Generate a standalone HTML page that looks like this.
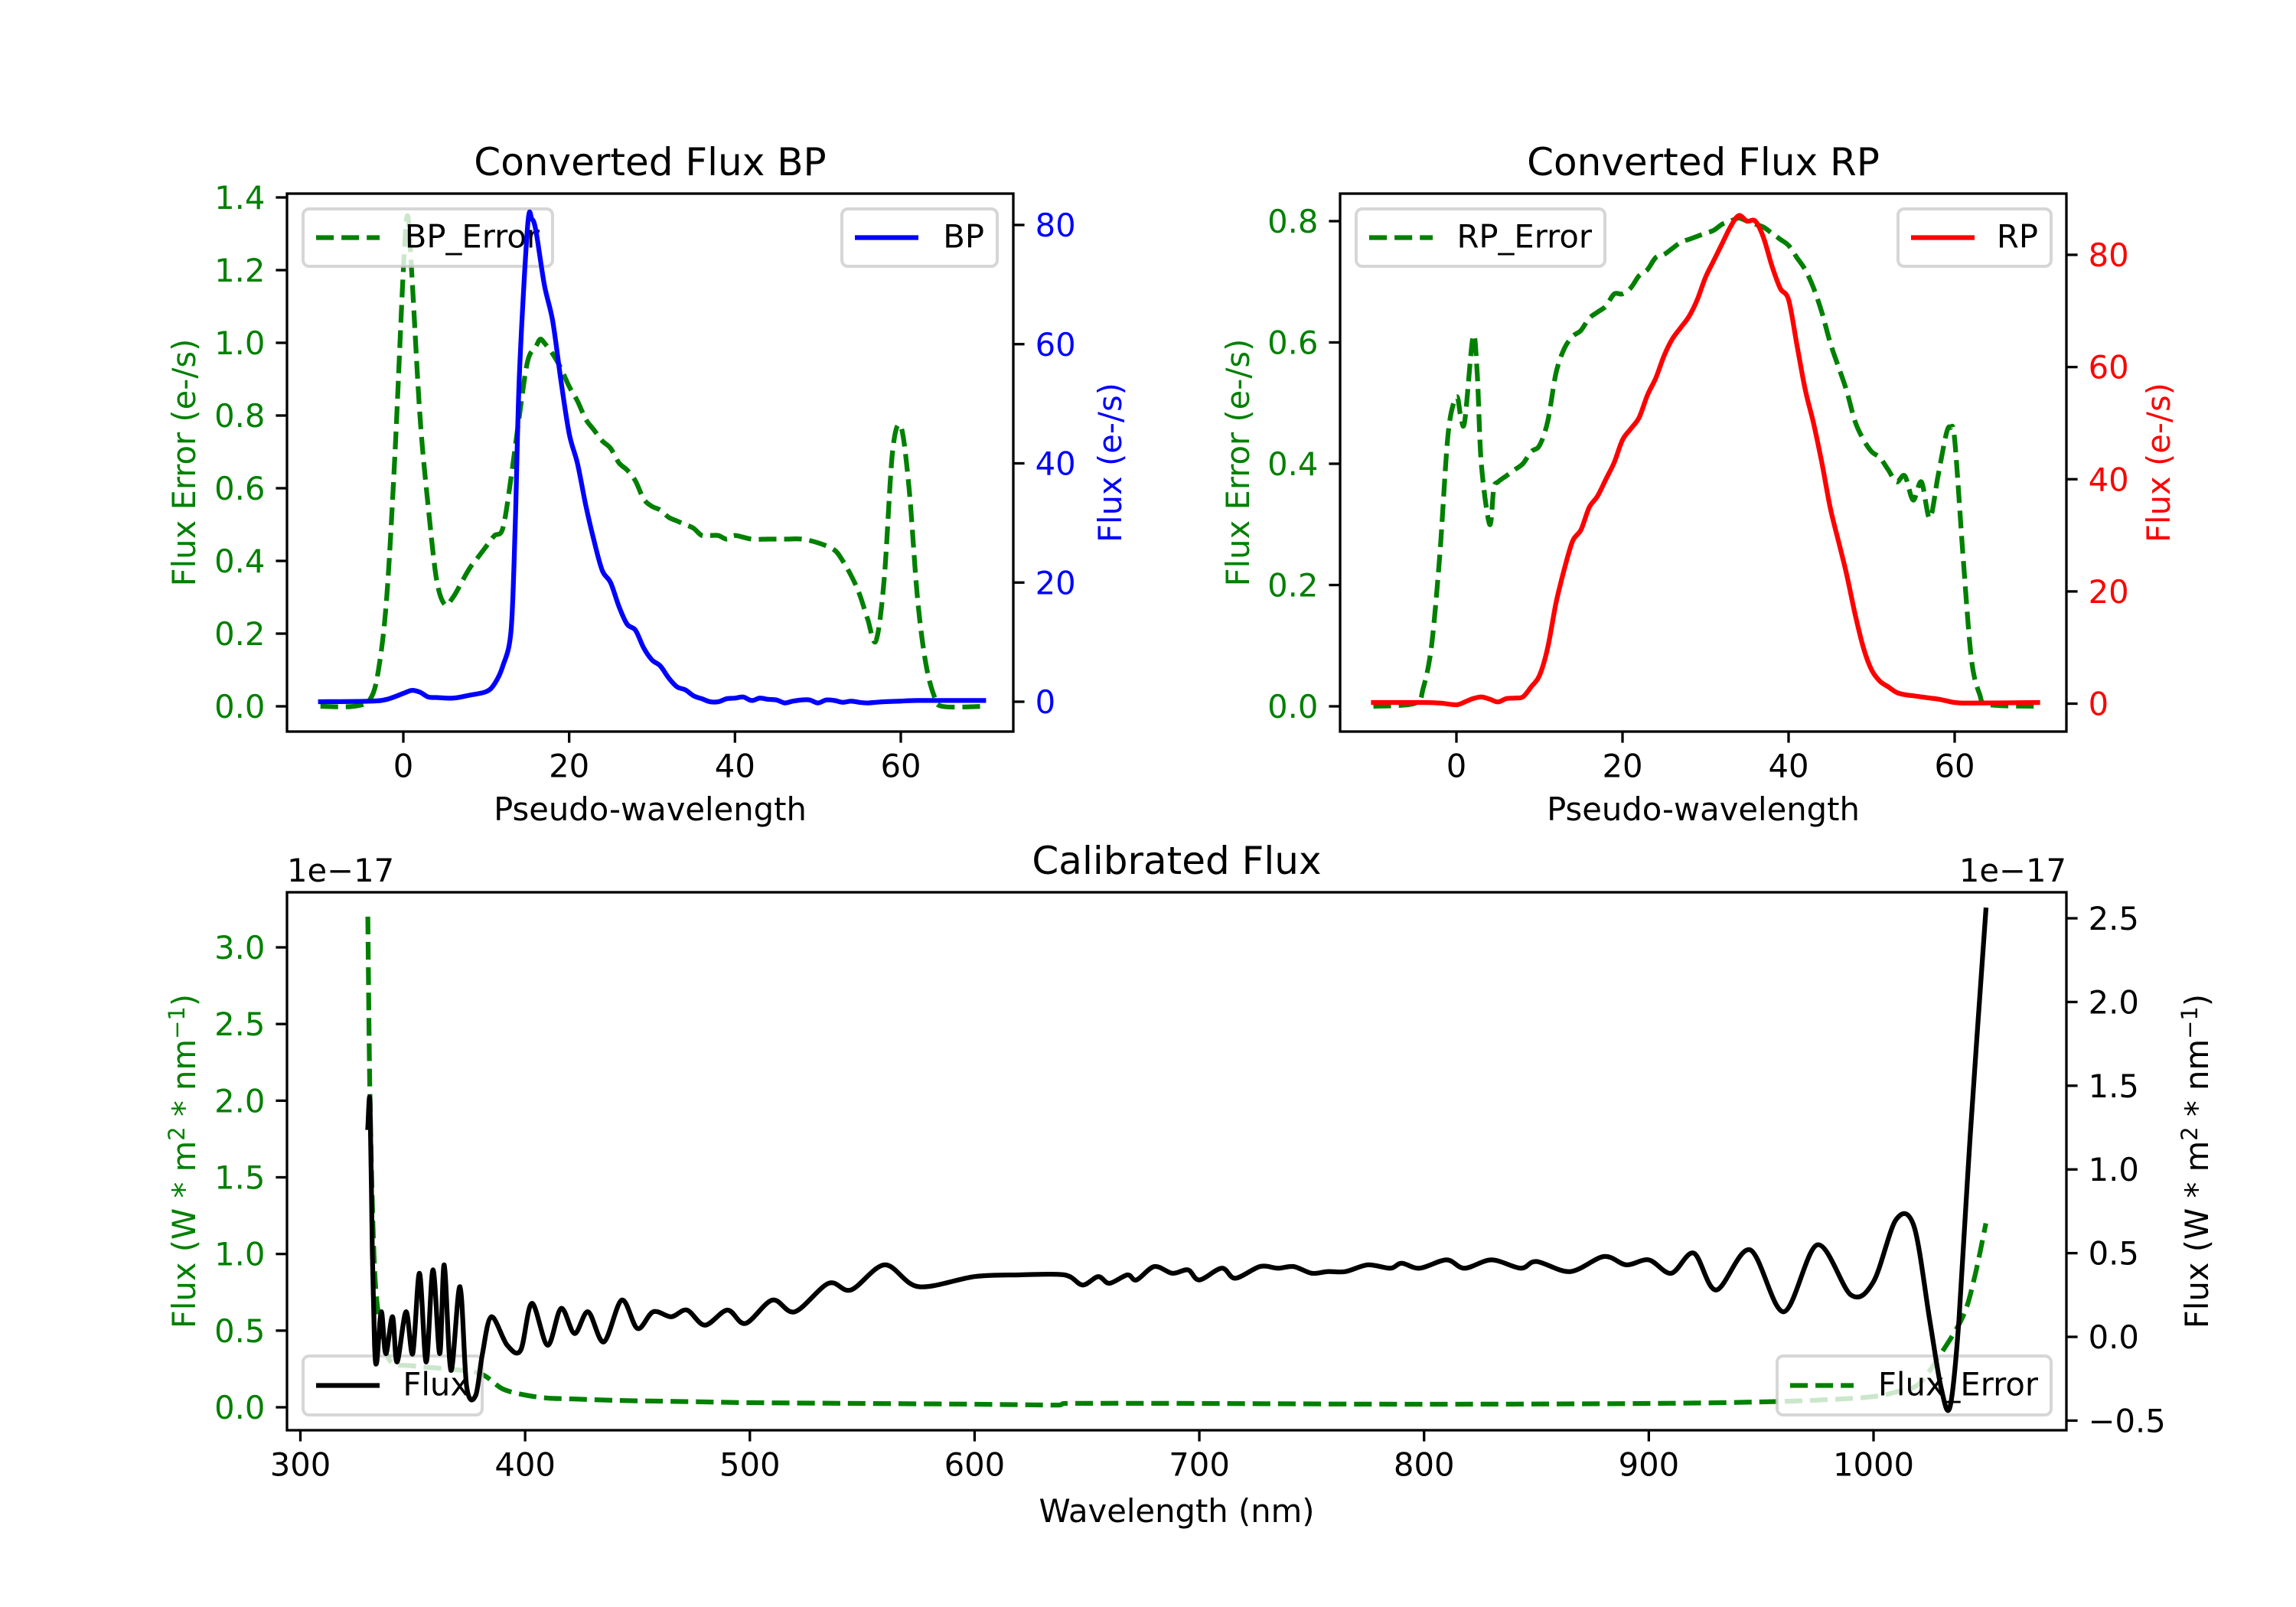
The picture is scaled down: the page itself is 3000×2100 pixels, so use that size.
<!DOCTYPE html>
<html><head><meta charset="utf-8">
<style>
html,body{margin:0;padding:0;background:#fff;}
svg{display:block;font-family:"DejaVu Sans","Liberation Sans",sans-serif;}
</style></head>
<body>
<svg id="fig" width="3000" height="2100" viewBox="0 0 3000 2100" xmlns="http://www.w3.org/2000/svg"></svg>
<script>
// ---------- BP panel data ----------
const bpErrX = [-10,-6,-4,-3,-2,-1,0,0.5,1,2,3,4,5,6,7,8,9,10,11,12,13,14,15,16,16.5,17,18,19,20,21,22,23,24,25,26,27,28,29,30,31,32,33,34,35,36,37,38,39,40,42,44,46,48,50,52,53,54,55,56,57,58,59,60,61,62,63,64,65,70];
const bpErrY = [0,0,0.02,0.1,0.3,0.7,1.2,1.35,1.2,0.8,0.55,0.35,0.28,0.3,0.34,0.38,0.41,0.44,0.47,0.49,0.63,0.8,0.95,0.99,1.01,1.0,0.97,0.93,0.88,0.84,0.79,0.76,0.73,0.71,0.67,0.65,0.62,0.57,0.55,0.54,0.52,0.51,0.5,0.49,0.47,0.47,0.47,0.46,0.47,0.46,0.46,0.46,0.46,0.45,0.43,0.4,0.36,0.31,0.24,0.18,0.35,0.7,0.77,0.6,0.3,0.12,0.03,0,0];
const bpX = [-10,-4,-2,0,1,2,3,4,6,8,10,11,12,13,13.5,14,15,15.5,16,17,18,19,20,21,22,23,24,25,26,27,28,29,30,31,32,33,34,35,36,37,38,39,40,41,42,43,44,45,46,47,48,49,50,51,52,53,54,55,56,57,58,60,62,70];
const bpY = [0,0.1,0.4,1.4,1.9,1.6,0.8,0.7,0.6,1.1,1.7,3,6,12,30,55,80,81,79,70,64,54,45,40,33,27,22,20,16,13,12,9,7,6,4,2.5,2,1,0.5,0,0,0.5,0.6,0.8,0.2,0.6,0.4,0.3,-0.2,0.1,0.3,0.3,-0.2,0.3,0.2,-0.1,0.1,-0.1,-0.2,-0.1,0,0.1,0.2,0.2];
const bpXTicks = [0,20,40,60];
const bpLeftTicks = [0,0.2,0.4,0.6,0.8,1.0,1.2,1.4];
const bpRightTicks = [0,20,40,60,80];
// ---------- RP panel data ----------
const rpErrX = [-10,-5,-4,-3,-2,-1,0,0.5,1,2,2.5,3,4,4.5,5,6,7,8,9,10,11,12,13,14,15,16,17,18,19,20,21,22,23,24,25,26,27,28,29,30,31,32,33,34,35,36,37,38,39,40,41,42,43,44,45,46,47,48,49,50,51,52,53,54,55,56,57,58,59,59.5,60,61,62,63,64,70];
const rpErrY = [0,0.005,0.03,0.1,0.25,0.45,0.51,0.48,0.47,0.61,0.55,0.4,0.3,0.36,0.37,0.38,0.39,0.4,0.42,0.43,0.47,0.55,0.59,0.61,0.62,0.64,0.65,0.66,0.68,0.68,0.69,0.71,0.72,0.74,0.745,0.755,0.765,0.77,0.775,0.78,0.785,0.795,0.8,0.805,0.8,0.795,0.79,0.78,0.77,0.76,0.74,0.72,0.69,0.65,0.6,0.56,0.52,0.47,0.44,0.42,0.41,0.39,0.37,0.38,0.34,0.37,0.31,0.38,0.45,0.46,0.44,0.25,0.08,0.02,0.003,0];
const rpX = [-10,-4,-2,0,1,2,3,4,5,6,7,8,9,10,11,12,13,14,15,16,17,18,19,20,21,22,23,24,25,26,27,28,29,30,31,32,33,34,35,36,37,38,39,40,41,42,43,44,45,46,47,48,49,50,51,52,53,54,55,56,57,58,59,60,62,70];
const rpY = [0.2,0.2,0.1,-0.2,0.3,0.9,1.2,0.8,0.3,0.9,1.0,1.2,3,5,10,18,24,29,31,35,37,40,43,47,49,51,55,58,62,65,67,69,72,76,79,82,85,87,86,86,83,78,74,72,64,56,50,43,35,29,23,16,10,6,4,3,2,1.6,1.4,1.2,1,0.8,0.5,0.2,0.1,0.2];
const rpXTicks = [0,20,40,60];
const rpLeftTicks = [0,0.2,0.4,0.6,0.8];
const rpRightTicks = [0,20,40,60,80];
// ---------- Calibrated panel data ----------
const calErrX = [330,331,333,336,340,350,365,380,390,400,410,420,440,460,480,500,550,600,630,638,640,700,800,900,950,980,1000,1010,1020,1030,1040,1045,1050];
const calErrY = [3.2,2.0,0.9,0.5,0.3,0.27,0.25,0.22,0.12,0.08,0.06,0.055,0.045,0.04,0.035,0.03,0.025,0.02,0.015,0.015,0.025,0.025,0.02,0.025,0.035,0.05,0.07,0.1,0.15,0.35,0.6,0.85,1.2];
const calX = [330,331,332,333,334,336,338,341,343,347,350,353,356,359,362,364,367,371,374,378,381,385,392,398,403,410,416,422,428,435,443,450,457,465,472,480,490,498,510,520,535,545,560,575,600,620,640,648,655,660,668,672,680,688,695,700,710,716,727,735,742,750,757,765,775,785,790,798,810,818,830,843,850,865,880,890,900,910,920,930,945,960,975,990,1000,1010,1018,1025,1030,1034,1038,1043,1050];
const calY = [1.25,1.4,0.5,-0.05,-0.15,0.15,-0.1,0.12,-0.15,0.15,-0.1,0.38,-0.15,0.4,-0.1,0.43,-0.2,0.3,-0.3,-0.35,-0.1,0.12,-0.05,-0.08,0.2,-0.05,0.17,0.02,0.15,-0.03,0.22,0.05,0.15,0.12,0.16,0.07,0.16,0.08,0.22,0.15,0.32,0.28,0.43,0.3,0.36,0.37,0.37,0.31,0.36,0.32,0.37,0.34,0.42,0.38,0.4,0.34,0.41,0.35,0.42,0.41,0.42,0.38,0.39,0.39,0.43,0.41,0.44,0.41,0.46,0.41,0.46,0.41,0.45,0.39,0.48,0.43,0.46,0.38,0.5,0.28,0.52,0.15,0.55,0.25,0.33,0.7,0.66,0.1,-0.3,-0.42,0.1,1.2,2.55];
const calXTicks = [300,400,500,600,700,800,900,1000];
const calLeftTicks = [0,0.5,1.0,1.5,2.0,2.5,3.0];
const calRightTicks = [-0.5,0,0.5,1.0,1.5,2.0,2.5];

const NS = "http://www.w3.org/2000/svg";
const fig = document.getElementById('fig');
const FS = 41.7, LW = 6.25, TICK = 14.6;
function mk(tag, attrs, parent){ const e=document.createElementNS(NS,tag); for(const k in attrs) e.setAttribute(k,attrs[k]); (parent||fig).appendChild(e); return e; }
function lin(d0,d1,p0,p1){ return v => p0 + (v-d0)*(p1-p0)/(d1-d0); }
function fmt(v,dec){ const s=v.toFixed(dec); return v<0 ? '\u2212'+s.slice(1) : s; }
function txt(s, x, y, opts){
  const t = mk('text', Object.assign({x:x,y:y,'font-size':FS,fill:'#000'}, opts||{}));
  t.textContent = s; return t;
}
function line(xs, ys, sx, sy, color, dashed, name, smooth){
  const P = xs.map((x,i)=>[sx(x), sy(ys[i])]);
  let d = 'M'+P[0][0].toFixed(1)+','+P[0][1].toFixed(1);
  for(let i=0;i<P.length-1;i++){
    if(smooth){
      const p0=P[Math.max(0,i-1)], p1=P[i], p2=P[i+1], p3=P[Math.min(P.length-1,i+2)];
      const t=0.16;
      const c1=[p1[0]+(p2[0]-p0[0])*t, p1[1]+(p2[1]-p0[1])*t];
      const c2=[p2[0]-(p3[0]-p1[0])*t, p2[1]-(p3[1]-p1[1])*t];
      // keep control x monotone
      c1[0]=Math.min(Math.max(c1[0],p1[0]),p2[0]); c2[0]=Math.min(Math.max(c2[0],p1[0]),p2[0]);
      d += 'C'+c1[0].toFixed(1)+','+c1[1].toFixed(1)+' '+c2[0].toFixed(1)+','+c2[1].toFixed(1)+' '+p2[0].toFixed(1)+','+p2[1].toFixed(1);
    } else d += 'L'+P[i+1][0].toFixed(1)+','+P[i+1][1].toFixed(1);
  }
  const p = mk('path',{d:d,fill:'none',stroke:color,'stroke-width':LW,'stroke-linejoin':'round','stroke-linecap':dashed?'butt':'square'});
  if(dashed) p.setAttribute('stroke-dasharray','23.1,10');
  
  
  return p;
}
function legend(x, y, w, h, label, color, dashed, name){
  const g = mk('g',{});
  
  
  mk('rect',{x:x,y:y,width:w,height:h,rx:8,fill:'#fff','fill-opacity':0.8,stroke:'#cccccc','stroke-opacity':0.8,'stroke-width':4},g);
  const ly = y + h/2;
  const l = mk('line',{x1:x+17,y1:ly,x2:x+100,y2:ly,stroke:color,'stroke-width':LW},g);
  if(dashed) l.setAttribute('stroke-dasharray','23.1,10');
  const t = mk('text',{x:x+w-17,y:ly+13,'font-size':FS,'text-anchor':'end',fill:'#000'},g);
  t.textContent = label;
}
function frame(L,T,R,B,name){
  const r = mk('rect',{x:L,y:T,width:R-L,height:B-T,fill:'none',stroke:'#000','stroke-width':3.3});
  
  
}
function xTicks(ticks, sx, B, dec){
  ticks.forEach(v=>{ const x=sx(v); mk('line',{x1:x,y1:B,x2:x,y2:B+TICK,stroke:'#000','stroke-width':3.3});
    const t=txt(fmt(v,dec), x, B+TICK+14+31, {'text-anchor':'middle'});
      });
}
function yTicks(ticks, sy, X, side, color, dec){
  ticks.forEach(v=>{ const y=sy(v); const x2 = side==='L'? X-TICK : X+TICK;
    mk('line',{x1:X,y1:y,x2:x2,y2:y,stroke:'#000','stroke-width':3.3});
    const t=txt(fmt(v,dec), side==='L'? x2-14 : x2+14, y+15, {'text-anchor': side==='L'?'end':'start', fill:color});
      });
}
function vlabel(s, x, y, color, name){
  const t = txt(s, x, y, {'text-anchor':'middle', fill:color, transform:'rotate(-90 '+x+' '+y+')'});
    return t;
}

// ===== BP panel =====
{
  const L=375,R=1324,T=253,B=956;
  const sx=lin(0,60,527,1177), syl=lin(0,1.4,923,258), syr=lin(0,80,917,294);
  line(bpErrX,bpErrY,sx,syl,'#008000',true,'bp-error-line',true);
  legend(396,273,326,75,'BP_Error','#008000',true,'bp-error-legend');
  line(bpX,bpY,sx,syr,'#0000ff',false,'bp-flux-line',true);
  legend(1100,273,203,75,'BP','#0000ff',false,'bp-legend');
  frame(L,T,R,B,'bp-axes');
  xTicks(bpXTicks,sx,B,0); yTicks(bpLeftTicks,syl,L,'L','#008000',1); yTicks(bpRightTicks,syr,R,'R','#0000ff',0);
  const t=txt('Converted Flux BP',(L+R)/2,T-24,{'text-anchor':'middle','font-size':50});  
  const xl=txt('Pseudo-wavelength',(L+R)/2,1072,{'text-anchor':'middle'});  
  vlabel('Flux Error (e-/s)',255,(T+B)/2,'#008000','bp-left-y-axis-title');
  vlabel('Flux (e-/s)',1465,(T+B)/2,'#0000ff','bp-right-y-axis-title');
}
// ===== RP panel =====
{
  const L=1751,R=2700,T=253,B=956;
  const sx=lin(0,60,1903,2554), syl=lin(0,0.8,923,289), syr=lin(0,80,919.5,333);
  line(rpErrX,rpErrY,sx,syl,'#008000',true,'rp-error-line',true);
  legend(1772,273,325,75,'RP_Error','#008000',true,'rp-error-legend');
  line(rpX,rpY,sx,syr,'#ff0000',false,'rp-flux-line',true);
  legend(2480,273,200,75,'RP','#ff0000',false,'rp-legend');
  frame(L,T,R,B,'rp-axes');
  xTicks(rpXTicks,sx,B,0); yTicks(rpLeftTicks,syl,L,'L','#008000',1); yTicks(rpRightTicks,syr,R,'R','#ff0000',0);
  const t=txt('Converted Flux RP',(L+R)/2,T-24,{'text-anchor':'middle','font-size':50});  
  const xl=txt('Pseudo-wavelength',(L+R)/2,1072,{'text-anchor':'middle'});  
  vlabel('Flux Error (e-/s)',1632,(T+B)/2,'#008000','rp-left-y-axis-title');
  vlabel('Flux (e-/s)',2835,(T+B)/2,'#ff0000','rp-right-y-axis-title');
}
// ===== Calibrated panel =====
{
  const L=375,R=2700,T=1166,B=1869;
  const sx=lin(300,1000,392.5,2448), syl=lin(0,3,1839,1238), syr=lin(0,2.5,1747,1200);
  line(calErrX,calErrY,sx,syl,'#008000',true,'calibrated-error-line',true);
  legend(396,1772,234,77,'Flux','#000',false,'flux-legend');
  legend(2322,1772,358,77,'Flux_Error','#008000',true,'flux-error-legend');
  line(calX,calY,sx,syr,'#000',false,'calibrated-flux-line',true);
  frame(L,T,R,B,'calibrated-axes');
  xTicks(calXTicks,sx,B,0); yTicks(calLeftTicks,syl,L,'L','#008000',1); yTicks(calRightTicks,syr,R,'R','#000',1);
  const t=txt('Calibrated Flux',(L+R)/2,T-24,{'text-anchor':'middle','font-size':50});  
  const o1=txt('1e\u221217',L,T-14,{});  
  const o2=txt('1e\u221217',R,T-14,{'text-anchor':'end'});  
  const xl=txt('Wavelength (nm)',(L+R)/2,1989,{'text-anchor':'middle'});  
  const yl=vlabel('',255,(T+B)/2,'#008000','calibrated-left-y-axis-title');
  yl.innerHTML='Flux (W * m<tspan dy="-14" font-size="29">2</tspan><tspan dy="14"> * nm</tspan><tspan dy="-14" font-size="29">\u22121</tspan><tspan dy="14">)</tspan>';
  const yr=vlabel('',2885,(T+B)/2,'#000','calibrated-right-y-axis-title');
  yr.innerHTML='Flux (W * m<tspan dy="-14" font-size="29">2</tspan><tspan dy="14"> * nm</tspan><tspan dy="-14" font-size="29">\u22121</tspan><tspan dy="14">)</tspan>';
}
</script>
</body></html>
